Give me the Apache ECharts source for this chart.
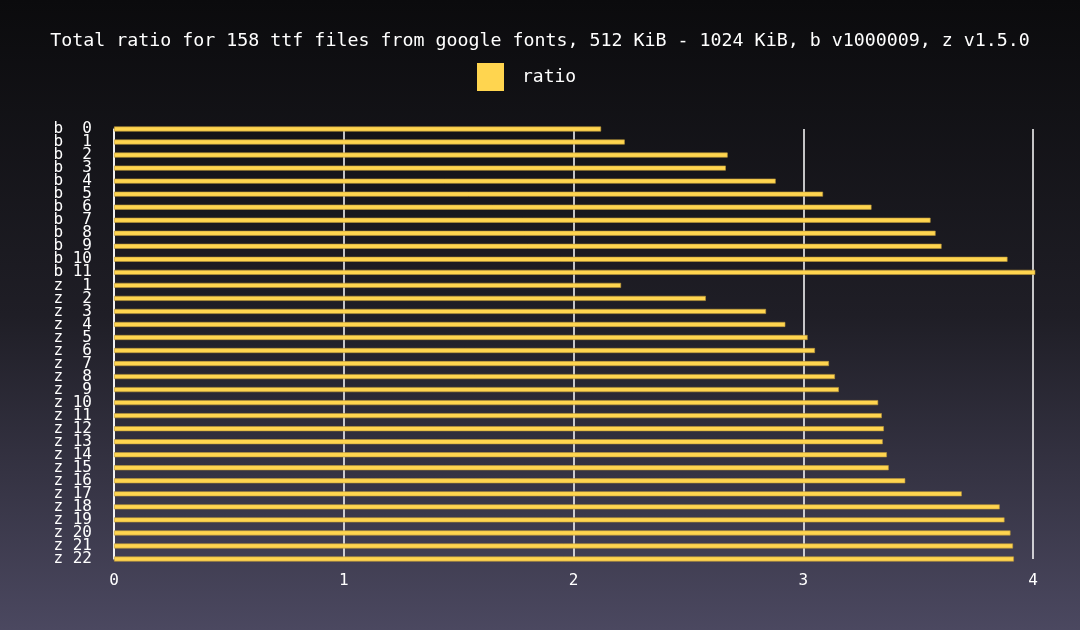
<!DOCTYPE html>
<html>
<head>
<meta charset="utf-8">
<script src="https://cdn.jsdelivr.net/npm/echarts@6/dist/echarts.min.js"></script>
<style>html,body{margin:0;padding:0;background:#000;}#c{width:1080px;height:630px;}</style>
</head>
<body>
<div id="c"></div>
<script>
const titleText = 'Total ratio for 158 ttf files from google fonts, 512 KiB - 1024 KiB, b v1000009, z v1.5.0';
const seriesName = 'ratio';
const categories = [
  'b  0','b  1','b  2','b  3','b  4','b  5','b  6','b  7','b  8','b  9','b 10','b 11',
  'z  1','z  2','z  3','z  4','z  5','z  6','z  7','z  8','z  9','z 10','z 11','z 12',
  'z 13','z 14','z 15','z 16','z 17','z 18','z 19','z 20','z 21','z 22'
];
const ratioValues = [
  2.120, 2.223, 2.671, 2.663, 2.880, 3.086, 3.297, 3.554, 3.576, 3.602, 3.889, 4.010,
  2.207, 2.576, 2.838, 2.922, 3.019, 3.051, 3.112, 3.138, 3.155, 3.326, 3.342, 3.351,
  3.346, 3.364, 3.372, 3.444, 3.690, 3.855, 3.876, 3.902, 3.913, 3.917
];
const xTicks = [0, 1, 2, 3, 4];

const mono = 'DejaVu Sans Mono';
const chart = echarts.init(document.getElementById('c'), null, {renderer: 'canvas'});
chart.setOption({
  backgroundColor: new echarts.graphic.LinearGradient(0, 0, 0, 1, [
    {offset: 0, color: '#0b0b0d'},
    {offset: 0.5, color: '#1f1e26'},
    {offset: 1, color: '#4b4860'}
  ]),
  animation: false,
  title: {
    text: titleText,
    left: 'center',
    top: 27,
    textStyle: {color: '#ffffff', fontFamily: mono, fontSize: 18.3, fontWeight: 'normal'}
  },
  legend: {
    top: 63,
    left: 477,
    padding: 0,
    itemWidth: 27,
    itemHeight: 28,
    itemGap: 10,
    icon: 'rect',
    itemStyle: {borderWidth: 0, color: '#ffd54f'},
    textStyle: {color: '#ffffff', fontFamily: mono, fontSize: 18, padding: [0, 0, 0, 13]},
    data: [seriesName]
  },
  grid: {left: 114, right: 47, top: 129, bottom: 71, containLabel: false},
  xAxis: {
    type: 'value',
    min: xTicks[0],
    max: xTicks[xTicks.length - 1],
    interval: 1,
    axisLine: {show: false},
    axisTick: {show: false},
    axisLabel: {color: '#ffffff', fontFamily: mono, fontSize: 16, margin: 14},
    splitLine: {show: true, lineStyle: {color: '#ffffff', width: 1.5}}
  },
  yAxis: {
    type: 'category',
    inverse: true,
    boundaryGap: false,
    data: categories,
    axisLine: {show: true, lineStyle: {color: '#ffffff', width: 1.5}},
    axisTick: {show: false},
    axisLabel: {color: '#ffffff', fontFamily: mono, fontSize: 16, margin: 22, interval: 0, lineHeight: 14}
  },
  series: [{
    name: seriesName,
    type: 'bar',
    data: ratioValues,
    barWidth: 5,
    clip: false,
    itemStyle: {color: '#ffd54f', borderColor: '#b8963a', borderWidth: 0.6}
  }]
});
</script>
</body>
</html>
